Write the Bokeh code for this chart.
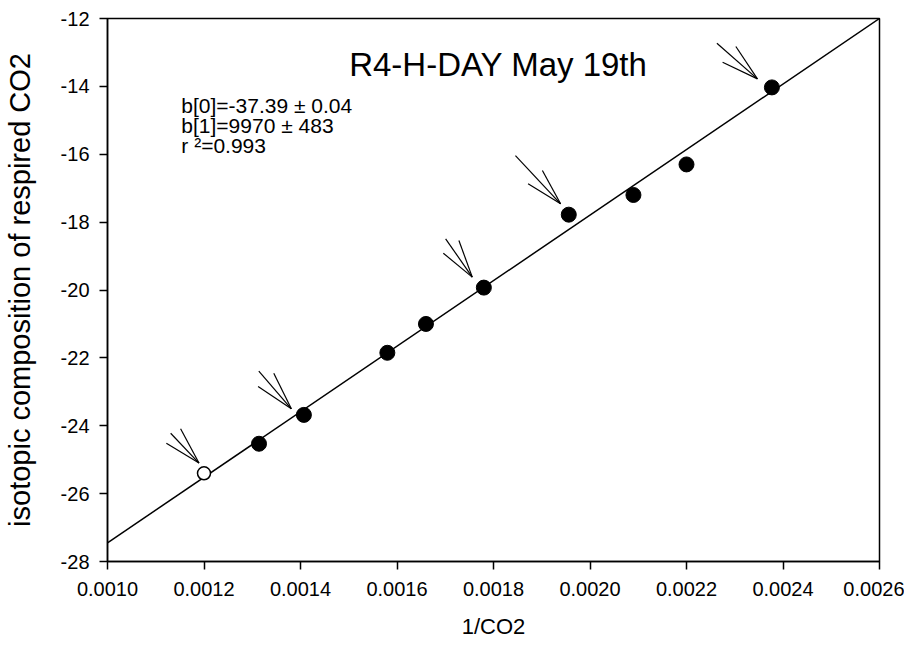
from bokeh.plotting import figure
from bokeh.models import Range1d, FixedTicker, NumeralTickFormatter, PrintfTickFormatter, ColumnDataSource
from bokeh.core.properties import value
from bokeh.embed import file_html
from bokeh.resources import INLINE

# ---- data ----
x_ticks = [0.0010, 0.0012, 0.0014, 0.0016, 0.0018, 0.0020, 0.0022, 0.0024, 0.0026]
y_ticks = [-28, -26, -24, -22, -20, -18, -16, -14, -12]

open_x = [0.00120]
open_y = [-25.40]

filled_x = [0.001314, 0.001407, 0.00158, 0.00166, 0.00178, 0.001956, 0.00209, 0.00220, 0.002377]
filled_y = [-24.53, -23.68, -21.85, -21.00, -19.93, -17.78, -17.20, -16.30, -14.03]

fit_x = [0.0010, 0.0026]
fit_y = [-27.45, -12.00]

arrow_tip_x = [0.0011896, 0.001381, 0.001756, 0.001939, 0.002347]
arrow_tip_y = [-25.10, -23.50, -19.62, -17.46, -13.78]
barb_a_x = [0.0011309, 0.0013136, 0.0017008, 0.0018455, 0.0022630]
barb_a_y = [-24.220, -22.393, -18.492, -16.038, -12.729]
barb_b_x = [0.0011515, 0.0013446, 0.0017283, 0.0019013, 0.0023023]
barb_b_y = [-24.090, -22.452, -18.542, -16.480, -12.826]
barb_c_x = [0.0011220, 0.0013121, 0.0016960, 0.0018717, 0.0022748]
barb_c_y = [-24.514, -22.844, -18.916, -16.872, -13.289]

title_text = "R4-H-DAY May 19th"
title_pos = (0.00181, -13.36)
stats_lines = ["b[0]=-37.39 \u00b1 0.04", "b[1]=9970 \u00b1 483", "r \u00b2=0.993"]
stats_x = 0.001153
stats_y = [-14.556, -15.145, -15.74]

FONT = "Liberation Sans"

p = figure(width=904, height=646,
           x_range=Range1d(0.0010, 0.0026), y_range=Range1d(-28, -12),
           output_backend="svg", toolbar_location=None,
           min_border_left=105, min_border_right=25, min_border_top=18, min_border_bottom=85,
           x_axis_label="1/CO2", y_axis_label="isotopic composition of respired CO2")

p.background_fill_color = "white"
p.border_fill_color = "white"
p.grid.visible = False
p.outline_line_color = "black"
p.outline_line_width = 1.5
p.outline_line_alpha = 1.0

for ax in (p.xaxis[0], p.yaxis[0]):
    ax.axis_line_width = 1.5
    ax.axis_line_color = "black"
    ax.major_tick_line_width = 1.5
    ax.major_tick_line_color = "black"
    ax.major_tick_in = 0
    ax.major_tick_out = 8
    ax.minor_tick_line_color = None
    ax.major_label_text_font = FONT
    ax.major_label_text_font_size = "20px"
    ax.major_label_text_color = "black"
    ax.axis_label_text_font = FONT
    ax.axis_label_text_font_style = "normal"
    ax.axis_label_text_color = "black"

p.xaxis[0].axis_label_text_font_size = "22px"
p.yaxis[0].axis_label_text_font_size = "29px"

p.xaxis[0].ticker = FixedTicker(ticks=x_ticks)
p.xaxis[0].formatter = NumeralTickFormatter(format="0.0000")
p.xaxis[0].major_label_standoff = 12
p.xaxis[0].axis_label_standoff = 15
p.yaxis[0].ticker = FixedTicker(ticks=y_ticks)
p.yaxis[0].formatter = PrintfTickFormatter(format="%d")
p.yaxis[0].major_label_standoff = 10
p.yaxis[0].axis_label_standoff = 22

# regression line
p.line(fit_x, fit_y, line_color="black", line_width=1.5)

# arrows (three barbs each)
seg = ColumnDataSource(dict(
    x0=barb_a_x + barb_b_x + barb_c_x,
    y0=barb_a_y + barb_b_y + barb_c_y,
    x1=arrow_tip_x * 3,
    y1=arrow_tip_y * 3,
))
p.segment(x0="x0", y0="y0", x1="x1", y1="y1", source=seg, line_color="black", line_width=1.2)

# points
p.scatter(filled_x, filled_y, size=15, fill_color="black", line_color="black")
p.scatter(open_x, open_y, size=13, fill_color="white", line_color="black", line_width=1.5)

# texts
p.text(x=[title_pos[0]], y=[title_pos[1]], text=[title_text], text_font=value(FONT),
       text_font_size="33px", text_align="center", text_baseline="middle", text_color="black")
p.text(x=[stats_x] * len(stats_lines), y=stats_y, text=stats_lines, text_font=value(FONT),
       text_font_size="21px", text_align="left", text_baseline="middle", text_color="black")

open("out.html", "w").write(file_html(p, INLINE))
